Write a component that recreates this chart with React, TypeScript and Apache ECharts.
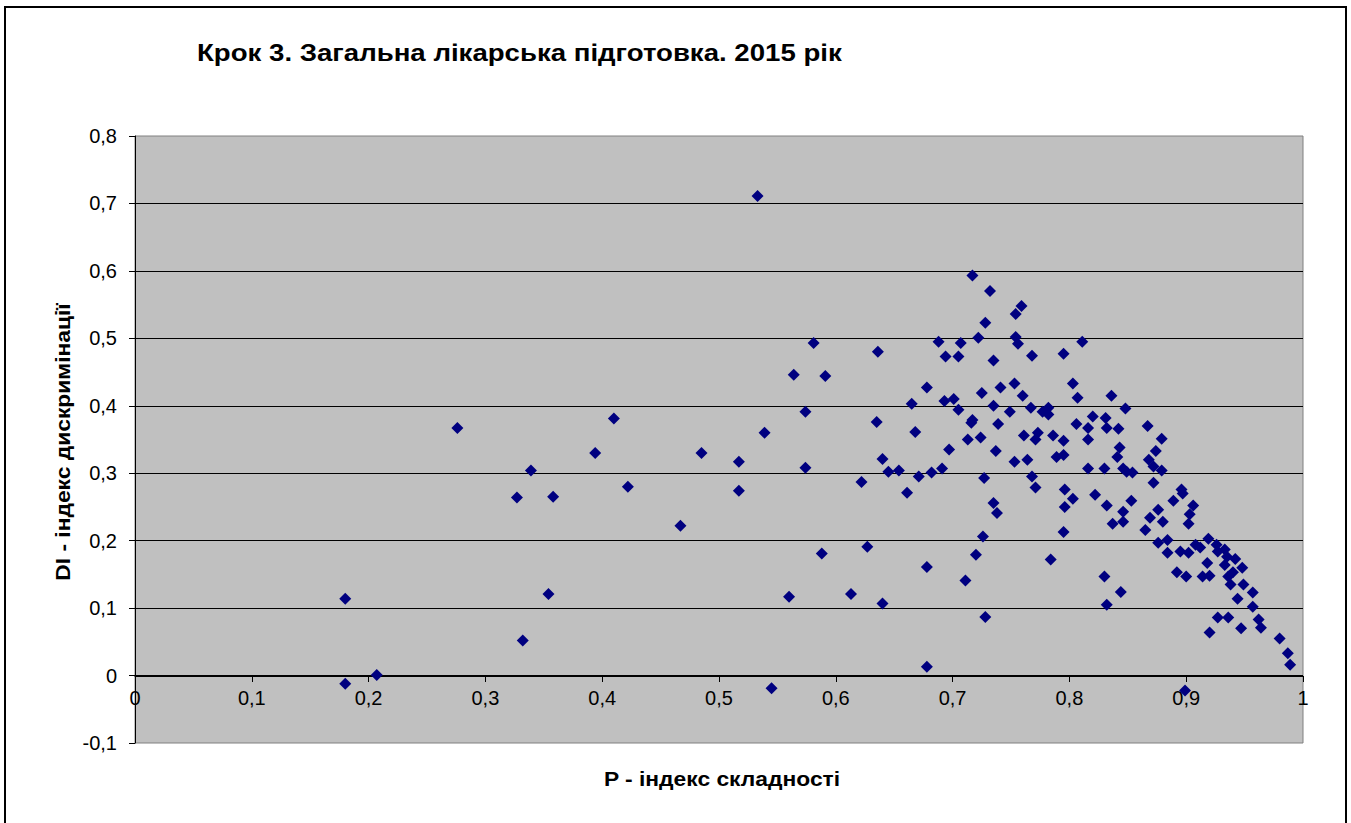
import React, { useEffect, useRef } from "react";
import * as echarts from "echarts";

const chartTitle = "Крок 3. Загальна лікарська підготовка. 2015 рік";
const xAxisName = "P - індекс складності";
const yAxisName = "DI - індекс дискримінації";

const pIndex = [
  0.180, 0.180, 0.207, 0.276, 0.327, 0.332, 0.339, 0.354, 0.358, 0.394,
  0.410, 0.422, 0.467, 0.485, 0.517, 0.517, 0.533, 0.539, 0.545, 0.560,
  0.564, 0.574, 0.574, 0.581, 0.588, 0.591, 0.613, 0.622, 0.627, 0.635,
  0.636, 0.640, 0.640, 0.645, 0.654, 0.661, 0.665, 0.668, 0.671, 0.678,
  0.678, 0.678, 0.682, 0.688, 0.691, 0.693, 0.694, 0.697, 0.701, 0.705,
  0.705, 0.707, 0.711, 0.713, 0.716, 0.717, 0.717, 0.720, 0.722, 0.724,
  0.725, 0.726, 0.727, 0.728, 0.728, 0.732, 0.735, 0.735, 0.735, 0.737,
  0.738, 0.739, 0.741, 0.749, 0.753, 0.753, 0.754, 0.759, 0.754, 0.756,
  0.760, 0.761, 0.764, 0.767, 0.768, 0.768, 0.771, 0.771, 0.773, 0.777,
  0.782, 0.782, 0.784, 0.786, 0.789, 0.795, 0.795, 0.795, 0.795, 0.796,
  0.796, 0.803, 0.803, 0.806, 0.807, 0.811, 0.816, 0.816, 0.816, 0.820,
  0.822, 0.830, 0.830, 0.831, 0.832, 0.832, 0.832, 0.836, 0.837, 0.841,
  0.842, 0.843, 0.844, 0.846, 0.846, 0.846, 0.848, 0.849, 0.853, 0.854,
  0.865, 0.867, 0.868, 0.869, 0.872, 0.872, 0.874, 0.876, 0.876, 0.879,
  0.879, 0.880, 0.884, 0.884, 0.889, 0.892, 0.895, 0.896, 0.897, 0.899,
  0.900, 0.902, 0.902, 0.903, 0.906, 0.908, 0.912, 0.914, 0.918, 0.919,
  0.920, 0.920, 0.926, 0.927, 0.927, 0.933, 0.933, 0.935, 0.936, 0.936,
  0.938, 0.940, 0.942, 0.944, 0.947, 0.948, 0.949, 0.957, 0.957, 0.962,
  0.964, 0.980, 0.987, 0.989,
];

const diIndex = [
  0.114, -0.012, 0.001, 0.367, 0.264, 0.052, 0.304, 0.121, 0.265, 0.330,
  0.381, 0.280, 0.222, 0.330, 0.317, 0.274, 0.711, 0.360, -0.019, 0.117,
  0.446, 0.308, 0.391, 0.493, 0.181, 0.444, 0.121, 0.287, 0.191, 0.376,
  0.480, 0.321, 0.107, 0.302, 0.304, 0.271, 0.403, 0.361, 0.295, 0.161,
  0.013, 0.427, 0.301, 0.495, 0.307, 0.407, 0.473, 0.335, 0.410, 0.473,
  0.394, 0.493, 0.141, 0.350, 0.375, 0.379, 0.593, 0.179, 0.501, 0.353,
  0.419, 0.206, 0.293, 0.523, 0.087, 0.570, 0.467, 0.400, 0.256, 0.333,
  0.241, 0.373, 0.427, 0.391, 0.433, 0.317, 0.536, 0.548, 0.502, 0.492,
  0.415, 0.356, 0.320, 0.397, 0.474, 0.295, 0.279, 0.350, 0.360, 0.391,
  0.397, 0.387, 0.172, 0.356, 0.324, 0.348, 0.327, 0.477, 0.213, 0.276,
  0.250, 0.433, 0.262, 0.373, 0.412, 0.495, 0.367, 0.350, 0.307, 0.384,
  0.268, 0.307, 0.147, 0.382, 0.367, 0.252, 0.105, 0.415, 0.225, 0.324,
  0.366, 0.338, 0.124, 0.307, 0.243, 0.228, 0.396, 0.302, 0.259, 0.301,
  0.216, 0.370, 0.320, 0.234, 0.310, 0.286, 0.333, 0.246, 0.197, 0.351,
  0.304, 0.228, 0.182, 0.201, 0.259, 0.153, 0.184, 0.276, 0.270, -0.022,
  0.147, 0.225, 0.182, 0.239, 0.252, 0.194, 0.190, 0.147, 0.167, 0.203,
  0.064, 0.148, 0.194, 0.184, 0.086, 0.187, 0.164, 0.176, 0.147, 0.086,
  0.135, 0.153, 0.173, 0.114, 0.070, 0.160, 0.135, 0.123, 0.102, 0.083,
  0.071, 0.055, 0.033, 0.016,
];

const fmt = (v: number) => {
  const r = Math.round(v * 10) / 10;
  return r === 0 ? "0" : String(r).replace(".", ",");
};

const FONT = '"Liberation Sans", Arial, sans-serif';

export default function App() {
  const ref = useRef<HTMLDivElement>(null);
  useEffect(() => {
    document.body.style.margin = "0";
    if (!ref.current) return;
    const chart = echarts.init(ref.current, undefined, { renderer: "svg" });
    const data = pIndex.map((x, i) => [x, diIndex[i]]);
    chart.setOption({
      animation: false,
      backgroundColor: "#ffffff",
      grid: {
        left: 135,
        right: 48,
        top: 136,
        bottom: 80,
        show: true,
        backgroundColor: "#C0C0C0",
        borderColor: "#808080",
        borderWidth: 1,
      },
      xAxis: {
        type: "value",
        position: "bottom",
        offset: -67,
        min: 0,
        max: 1,
        interval: 0.1,
        axisLine: { show: true, onZero: false, lineStyle: { color: "#000", width: 1 } },
        axisTick: { show: true, length: 6, lineStyle: { color: "#000" } },
        axisLabel: { fontSize: 20, margin: 12, color: "#000", fontFamily: FONT, formatter: fmt },
        splitLine: { show: false },
      },
      yAxis: {
        type: "value",
        min: -0.1,
        max: 0.8,
        interval: 0.1,
        axisLine: { show: true, onZero: false, lineStyle: { color: "#000", width: 1 } },
        axisTick: { show: true, length: 6, lineStyle: { color: "#000" } },
        axisLabel: { fontSize: 20, margin: 18, color: "#000", fontFamily: FONT, formatter: fmt },
        splitLine: {
          show: true,
          showMinLine: false,
          showMaxLine: false,
          lineStyle: { color: "#000", width: 1 },
        },
      },
      graphic: [
        {
          type: "rect",
          silent: true,
          shape: { x: 5, y: 7, width: 1341, height: 830 },
          style: { fill: "none", stroke: "#000", lineWidth: 2 },
        },
        {
          type: "text",
          x: 197,
          y: 53,
          scaleX: 1.15,
          style: {
            text: chartTitle,
            fontSize: 24,
            fontWeight: "bold",
            fontFamily: FONT,
            fill: "#000",
            align: "left",
            verticalAlign: "middle",
          },
        },
        {
          type: "text",
          x: 722,
          y: 779,
          scaleX: 1.17,
          style: {
            text: xAxisName,
            fontSize: 19.5,
            fontWeight: "bold",
            fontFamily: FONT,
            fill: "#000",
            align: "center",
            verticalAlign: "middle",
          },
        },
        {
          type: "text",
          x: 63,
          y: 442,
          rotation: Math.PI / 2,
          scaleX: 1.17,
          style: {
            text: yAxisName,
            fontSize: 19.5,
            fontWeight: "bold",
            fontFamily: FONT,
            fill: "#000",
            align: "center",
            verticalAlign: "middle",
          },
        },
      ],
      series: [
        {
          type: "scatter",
          data,
          symbol: "diamond",
          symbolSize: 12,
          itemStyle: { color: "#000080", opacity: 1 },
        },
      ],
    });
    return () => chart.dispose();
  }, []);
  return <div ref={ref} style={{ width: 1351, height: 823 }} />;
}
